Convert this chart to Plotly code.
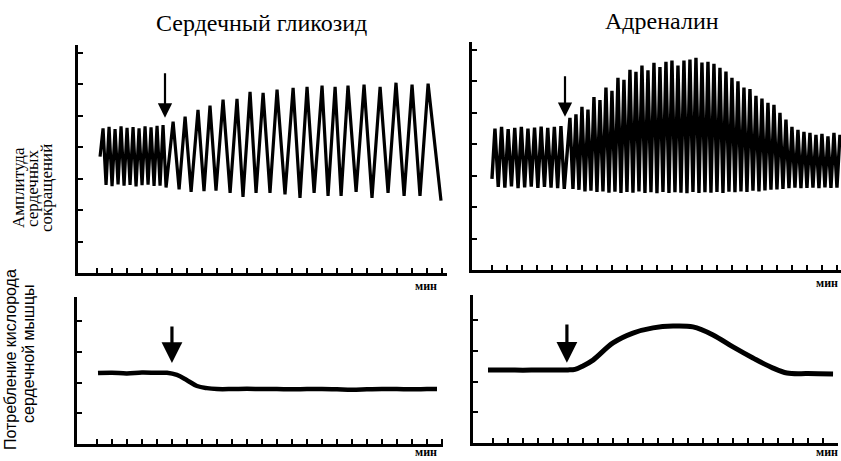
import plotly.graph_objects as go

# ---------------- data ----------------
# Top-left: cardiac glycoside, contraction amplitude (turning points of the trace)
gly_amp_t = [1.2, 1.4, 1.6, 1.8, 2.0, 2.2, 2.4, 2.6, 2.8, 3.0, 3.2, 3.4, 3.6, 3.8, 4.0,
             4.2, 4.4, 4.6, 4.8, 5.0, 5.2, 5.4, 5.6,
             6.07, 6.47, 6.87, 7.27, 7.73, 8.13, 8.53, 8.93, 9.4, 9.87, 10.33, 10.73,
             11.2, 11.6, 12.07, 12.53, 13.0, 13.53, 14.07, 14.53, 15.0, 15.47, 16.0, 16.4,
             16.87, 17.27, 17.73, 18.27, 18.8, 19.33, 19.87, 20.4, 20.93, 21.47, 22.0, 22.53,
             23.07, 23.93]
gly_amp_v = [3.7, 4.60, 2.80, 4.65, 2.76, 4.58, 2.82, 4.66, 2.78, 4.62, 2.80, 4.64, 2.75,
             4.60, 2.79, 4.66, 2.81, 4.63, 2.77, 4.68, 2.78, 4.70, 2.72,
             4.81, 2.66, 4.97, 2.58, 5.19, 2.60, 5.32, 2.62, 5.51, 2.55, 5.54, 2.42,
             5.76, 2.55, 5.73, 2.55, 5.83, 2.50, 5.89, 2.39, 5.92, 2.55, 5.96, 2.45,
             5.92, 2.45, 5.96, 2.58, 5.99, 2.39, 5.92, 2.55, 6.05, 2.45, 5.99, 2.45,
             6.02, 2.30]

# Top-right: adrenaline, contraction amplitude (turning points)
adr_pre_peak_t = [1.2, 1.64, 2.08, 2.52, 2.96, 3.4, 3.84, 4.28, 4.72, 5.16, 5.6]
adr_pre_peak_v = [4.50, 4.55, 4.48, 4.52, 4.55, 4.50, 4.53, 4.56, 4.52, 4.55, 4.58]
adr_pre_trough_t = [1.42, 1.86, 2.3, 2.74, 3.18, 3.62, 4.06, 4.5, 4.94, 5.38, 5.82]
adr_pre_trough_v = [2.64, 2.62, 2.66, 2.60, 2.63, 2.65, 2.61, 2.64, 2.62, 2.60, 2.58]
adr_post_peak_t = [6.2, 6.6, 7.0, 7.4, 7.8, 8.2, 8.6, 9.0, 9.4, 9.8, 10.2, 10.6, 11.0, 11.4,
                   11.8, 12.2, 12.6, 13.0, 13.4, 13.8, 14.2, 14.6, 15.0, 15.4, 15.8, 16.2,
                   16.6, 17.0, 17.4, 17.8, 18.2, 18.6, 19.0, 19.4, 19.8, 20.2, 20.6, 21.0,
                   21.4, 21.8, 22.2, 22.6, 23.0, 23.4, 23.8, 24.2]
adr_post_peak_v = [4.84, 4.95, 5.19, 5.10, 5.50, 5.40, 5.80, 5.70, 6.11, 6.05, 6.37, 6.30,
                   6.50, 6.35, 6.59, 6.45, 6.62, 6.66, 6.50, 6.66, 6.69, 6.75, 6.60, 6.62,
                   6.56, 6.43, 6.31, 6.11, 6.00, 5.80, 5.75, 5.54, 5.45, 5.32, 5.25, 5.00,
                   4.78, 4.55, 4.46, 4.39, 4.36, 4.30, 4.33, 4.25, 4.36, 4.30]
adr_post_trough_t = [6.4, 6.8, 7.2, 7.6, 8.0, 8.4, 8.8, 9.2, 9.6, 10.0, 10.4, 10.8, 11.2,
                     11.6, 12.0, 12.4, 12.8, 13.2, 13.6, 14.0, 14.4, 14.8, 15.2, 15.6, 16.0,
                     16.4, 16.8, 17.2, 17.6, 18.0, 18.4, 18.8, 19.2, 19.6, 20.0, 20.4, 20.8,
                     21.2, 21.6, 22.0, 22.4, 22.8, 23.2, 23.6, 24.0]
adr_post_trough_v = [2.58, 2.55, 2.50, 2.52, 2.48, 2.50, 2.46, 2.49, 2.45, 2.48, 2.46, 2.50,
                     2.45, 2.47, 2.44, 2.48, 2.45, 2.47, 2.46, 2.44, 2.48, 2.45, 2.47, 2.46,
                     2.48, 2.45, 2.49, 2.47, 2.50, 2.48, 2.52, 2.50, 2.53, 2.55, 2.56, 2.58,
                     2.60, 2.62, 2.60, 2.61, 2.62, 2.60, 2.63, 2.61, 2.62]

# Bottom-left: cardiac glycoside, oxygen consumption
gly_o2_t = [1.07, 2.0, 3.0, 4.0, 5.0, 5.67, 6.33, 7.0, 7.67, 8.33, 9.0, 10, 11, 12, 13, 14,
            15, 16, 17, 18, 19, 20, 21, 22, 23, 23.67]
gly_o2_v = [2.31, 2.32, 2.30, 2.33, 2.32, 2.32, 2.25, 2.08, 1.89, 1.82, 1.79, 1.79, 1.80,
            1.79, 1.79, 1.78, 1.79, 1.79, 1.78, 1.77, 1.78, 1.79, 1.79, 1.78, 1.79, 1.79]

# Bottom-right: adrenaline, oxygen consumption
adr_o2_t = [0.67, 2, 3, 4, 5, 6, 6.47, 7.0, 7.67, 9.0, 10.33, 11.67, 13.0, 14.33, 15.67,
            17.0, 18.33, 19.67, 20.6, 22, 23.67]
adr_o2_v = [2.38, 2.38, 2.37, 2.38, 2.38, 2.38, 2.40, 2.51, 2.70, 3.26, 3.58, 3.75, 3.81,
            3.78, 3.52, 3.13, 2.77, 2.44, 2.28, 2.26, 2.25]

# drug application moments (arrows)
gly_dose_t = 5.53
adr_dose_t = 5.87
gly_o2_dose_t = 6.0
adr_o2_dose_t = 5.93

titles = ["Сердечный гликозид", "Адреналин"]
unit_label = "мин"
amp_label = ["Амплитуда", "сердечных", "сокращений"]
o2_label = ["Потребление кислорода", "сердечной мышцы"]

# ------------- build turning-point sequence for adrenaline -------------
adr_t = [1.0]
adr_v = [2.90]
for i in range(len(adr_pre_peak_t)):
    adr_t += [adr_pre_peak_t[i], adr_pre_trough_t[i]]
    adr_v += [adr_pre_peak_v[i], adr_pre_trough_v[i]]
for i in range(len(adr_post_peak_t)):
    adr_t.append(adr_post_peak_t[i]); adr_v.append(adr_post_peak_v[i])
    if i < len(adr_post_trough_t):
        adr_t.append(adr_post_trough_t[i]); adr_v.append(adr_post_trough_v[i])

W, H = 841, 461
black = "black"

fig = go.Figure()
fig.add_trace(go.Scatter(x=gly_amp_t, y=gly_amp_v, mode="lines",
                         line=dict(color=black, width=3.2), xaxis="x", yaxis="y"))
fig.add_trace(go.Scatter(x=adr_t, y=adr_v, mode="lines",
                         line=dict(color=black, width=3.4), xaxis="x2", yaxis="y2"))
fig.add_trace(go.Scatter(x=gly_o2_t, y=gly_o2_v, mode="lines",
                         line=dict(color=black, width=4.5, shape="spline"),
                         xaxis="x3", yaxis="y3"))
fig.add_trace(go.Scatter(x=adr_o2_t, y=adr_o2_v, mode="lines",
                         line=dict(color=black, width=5, shape="spline"),
                         xaxis="x4", yaxis="y4"))


def ax_style(domain, rng, anchor, ticks):
    return dict(domain=domain, range=rng, anchor=anchor, showline=True, linewidth=2.5,
                linecolor=black, ticks="inside", tickvals=ticks, ticklen=5, tickwidth=2,
                tickcolor=black, showticklabels=False, showgrid=False, zeroline=False,
                fixedrange=True)


xt = list(range(1, 25))
fig.update_layout(
    width=W, height=H, autosize=False, showlegend=False,
    margin=dict(l=0, r=0, t=0, b=0),
    paper_bgcolor="white", plot_bgcolor="white",
    xaxis=ax_style([78 / W, 447 / W], [-0.27, 24.33], "y", xt),
    yaxis=ax_style([(H - 273) / H, (H - 45) / H], [0, 7.25], "x", list(range(1, 8))),
    xaxis2=ax_style([472 / W, 1.0], [-0.33, 24.27], "y2", xt),
    yaxis2=ax_style([(H - 270) / H, (H - 42) / H], [0, 7.25], "x2", list(range(1, 8))),
    xaxis3=ax_style([77 / W, 443 / W], [-0.33, 24.07], "y3", xt),
    yaxis3=ax_style([(H - 444) / H, (H - 297) / H], [0, 4.79], "x3", [1, 2, 3, 4]),
    xaxis4=ax_style([473 / W, 838 / W], [-0.33, 24.0], "y4", list(range(1, 24))),
    yaxis4=ax_style([(H - 443) / H, (H - 295) / H], [0, 4.82], "x4", [1, 2, 3, 4]),
)

ann = []
# arrows
for (t, tip, tail, xr, yr, w) in [(gly_dose_t, 4.94, 6.40, "x", "y", 2.2),
                                  (adr_dose_t, 4.87, 6.21, "x2", "y2", 2.2),
                                  (gly_o2_dose_t, 2.64, 3.88, "x3", "y3", 3.2),
                                  (adr_o2_dose_t, 2.61, 3.91, "x4", "y4", 3.2)]:
    ann.append(dict(x=t, y=tip, ax=t, ay=tail, xref=xr, yref=yr, axref=xr, ayref=yr,
                    text="", showarrow=True, arrowhead=2, arrowsize=1.3, arrowwidth=w,
                    arrowcolor=black))

serif = "Liberation Serif"
sans = "Liberation Sans"
# titles
ann.append(dict(x=261 / W, y=(H - 23) / H, xref="paper", yref="paper", text=titles[0],
                showarrow=False, font=dict(family=serif, size=24, color=black),
                xanchor="center", yanchor="middle"))
ann.append(dict(x=662 / W, y=(H - 21) / H, xref="paper", yref="paper", text=titles[1],
                showarrow=False, font=dict(family=serif, size=24, color=black),
                xanchor="center", yanchor="middle"))
# unit labels
for (px, py) in [(439, 286), (840, 283), (439, 452), (840, 452)]:
    ann.append(dict(x=px / W, y=(H - py) / H, xref="paper", yref="paper",
                    text="<b>" + unit_label + "</b>",
                    showarrow=False, font=dict(family=serif, size=12, color=black),
                    xanchor="right", yanchor="middle"))
# y labels
for txt, px in zip(amp_label, [18, 32, 46]):
    ann.append(dict(x=px / W, y=(H - 188) / H, xref="paper", yref="paper", text=txt,
                    showarrow=False, textangle=-90,
                    font=dict(family=serif, size=17, color=black),
                    xanchor="center", yanchor="middle"))
for txt, px, py in zip(o2_label, [10, 28], [360, 354]):
    ann.append(dict(x=px / W, y=(H - py) / H, xref="paper", yref="paper", text=txt,
                    showarrow=False, textangle=-90,
                    font=dict(family=sans, size=16, color=black),
                    xanchor="center", yanchor="middle"))
fig.update_layout(annotations=ann)

fig.write_html("out.html", config={"displayModeBar": False},
               post_script="document.body.style.margin='0';")
